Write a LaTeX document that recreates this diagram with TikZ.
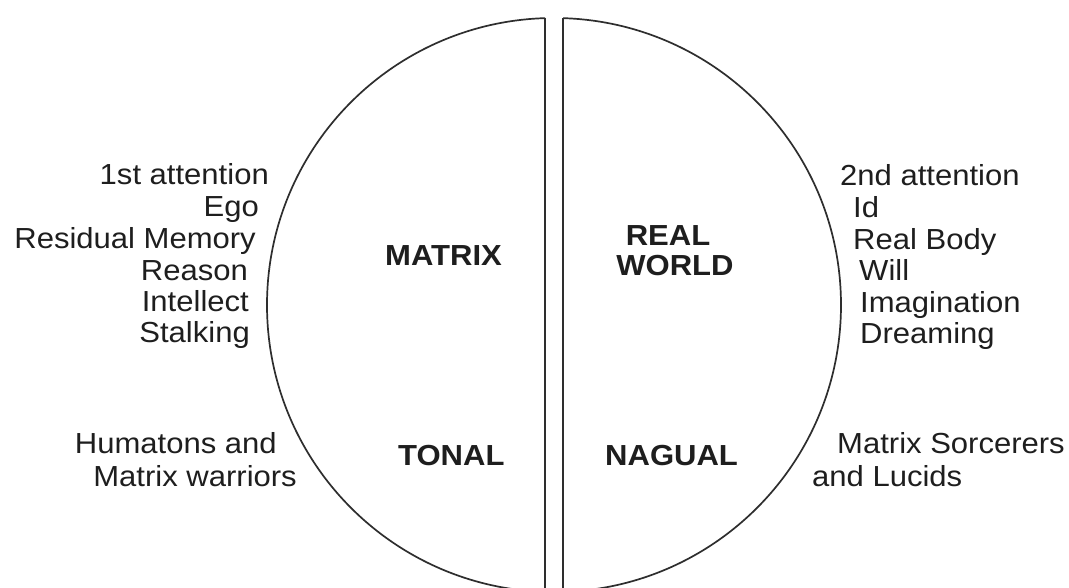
\documentclass[tikz,border=0pt]{standalone}
\usepackage{fontspec}
\setmainfont{Liberation Sans}[FakeStretch=1.07]
\definecolor{ink}{HTML}{1E1E1E}
\definecolor{linec}{HTML}{2E2E2E}
\begin{document}
\begin{tikzpicture}[x=1pt,y=-1pt,
  lab/.style={inner sep=0pt,text=ink,font=\fontsize{29}{30}\selectfont},
  big/.style={lab,font=\fontsize{29}{30}\selectfont\bfseries},
  rim/.style={draw=linec,line width=1.7pt}]
\useasboundingbox[fill=white] (0,0) rectangle (1069,587);
% left half
\begin{scope}
\clip (0,0) rectangle (545,587);
\draw[rim] (554,305) circle[radius=287];
\end{scope}
% right half
\begin{scope}
\clip (563,0) rectangle (1069,587);
\draw[rim] (554,305) circle[radius=287];
\end{scope}
\coordinate (lt) at (545,18.1);
\coordinate (lb) at (545,588);
\coordinate (rt) at (563,18.1);
\coordinate (rb) at (563,588);
\draw[rim] (lt) -- (lb);
\draw[rim] (rt) -- (rb);
% left list
\node[lab,anchor=base east] (l1) at (269,184) {1st attention};
\node[lab,anchor=base east] (l2) at (259,216) {Ego};
\node[lab,anchor=base east] (l3) at (256,248) {Residual Memory};
\node[lab,anchor=base east] (l4) at (248,280) {Reason};
\node[lab,anchor=base east] (l5) at (249,311) {Intellect};
\node[lab,anchor=base east] (l6) at (250,342) {Stalking};
% right list
\node[lab,anchor=base west] (r1) at (840,185) {2nd attention};
\node[lab,anchor=base west] (r2) at (853,217) {Id};
\node[lab,anchor=base west] (r3) at (853,249) {Real Body};
\node[lab,anchor=base west] (r4) at (859,280) {Will};
\node[lab,anchor=base west] (r5) at (860,312) {Imagination};
\node[lab,anchor=base west] (r6) at (860,343) {Dreaming};
% bottom labels
\node[lab,anchor=base east] (b1) at (277,453) {Humatons and};
\node[lab,anchor=base east] (b2) at (297,486) {Matrix warriors};
\node[lab,anchor=base west] (b3) at (837,453) {Matrix Sorcerers};
\node[lab,anchor=base west] (b4) at (812,486) {and Lucids};
% centre labels
\node[big,anchor=base west] (matrix) at (385,265) {MATRIX};
\node[big,anchor=base] (real) at (668,245) {REAL};
\node[big,anchor=base] (world) at (675,275) {WORLD};
\node[big,anchor=base west] (tonal) at (398,465) {TONAL};
\node[big,anchor=base west] (nagual) at (605,465) {NAGUAL};
\end{tikzpicture}
\end{document}
